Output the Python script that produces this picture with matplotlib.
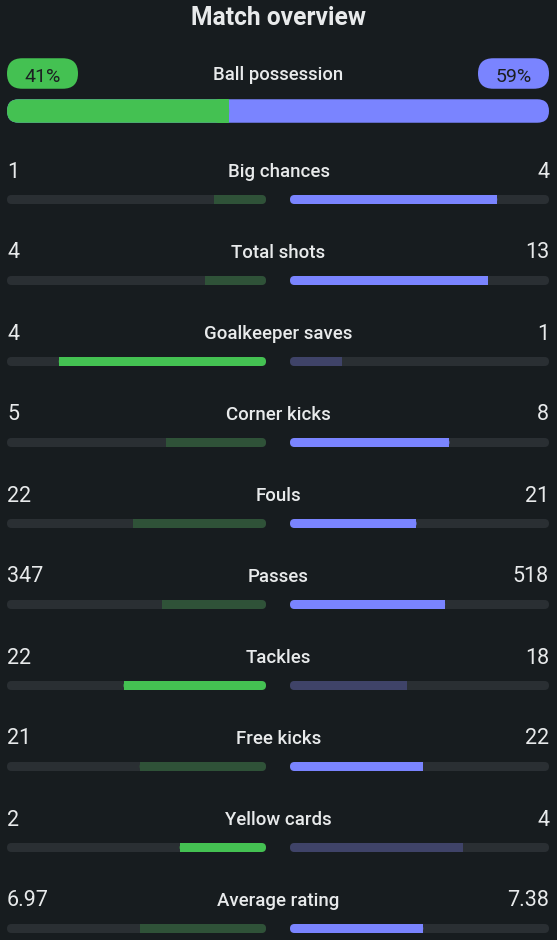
import matplotlib.pyplot as plt
from matplotlib.patches import FancyBboxPatch, Rectangle

plt.rcParams["font.family"] = ["Roboto", "DejaVu Sans"]

BG = "#171c1f"
TRACK = "#2a2f33"
TEXT = "#e8eaeb"
HOME_ON, HOME_OFF = "#44c152", "#2f5238"
AWAY_ON, AWAY_OFF = "#7a84ff", "#3f4368"

possession_home = 41
possession_away = 59

stats = ["Big chances", "Total shots", "Goalkeeper saves", "Corner kicks", "Fouls",
         "Passes", "Tackles", "Free kicks", "Yellow cards", "Average rating"]
home = [1, 4, 4, 5, 22, 347, 22, 21, 2, 6.97]
away = [4, 13, 1, 8, 21, 518, 18, 22, 4, 7.38]
lower_is_better = ["Fouls", "Yellow cards"]


def bar(ax, x0, x1, yc, h, color, square_left=False, square_right=False):
    r = h / 2
    ax.add_patch(FancyBboxPatch((x0, yc - r), x1 - x0, h, fc=color, ec="none",
                                boxstyle=f"round,pad=0,rounding_size={r}"))
    if square_left:
        ax.add_patch(Rectangle((x0, yc - r), r, h, fc=color, ec="none"))
    if square_right:
        ax.add_patch(Rectangle((x1 - r, yc - r), r, h, fc=color, ec="none"))


def main() -> None:
    fig = plt.figure(figsize=(5.57, 9.4), dpi=100, facecolor=BG)
    ax = fig.add_axes([0, 0, 1, 1])
    ax.set_facecolor(BG)
    ax.set_xlim(0, 557)
    ax.set_ylim(940, 0)
    ax.axis("off")

    ax.text(278.5, 25, "Match overview", color=TEXT, fontsize=17.7, fontweight="bold",
            ha="center", va="baseline")

    # possession
    bar(ax, 7, 78, 73.5, 30.5, HOME_ON)
    bar(ax, 478, 549, 73.5, 30.5, AWAY_ON)
    ax.text(42.5, 81.5, f"{possession_home}%", color="#1c1f22", fontsize=14,
            ha="center", va="baseline")
    ax.text(513.5, 81.5, f"{possession_away}%", color="#1c1f22", fontsize=14,
            ha="center", va="baseline")
    ax.text(278, 80, "Ball possession", color=TEXT, fontsize=13.3, fontweight="medium",
            ha="center", va="baseline")
    split = 7 + (549 - 7) * possession_home / (possession_home + possession_away)
    bar(ax, 7, 549, 111, 23.5, AWAY_ON)
    bar(ax, 7, split, 111, 23.5, HOME_ON, square_right=True)

    left0, left1 = 7, 266
    right0, right1 = 290, 549
    width = left1 - left0
    for i, (name, h, a) in enumerate(zip(stats, home, away)):
        yl = 177.5 + 81 * i
        yb = 199.5 + 81 * i
        ax.text(7, yl, f"{h:g}", color=TEXT, fontsize=15.5, ha="left", va="baseline")
        ax.text(549, yl, f"{a:g}", color=TEXT, fontsize=15.5, ha="right", va="baseline")
        ax.text(278.5, yl - 0.5, name, color=TEXT, fontsize=13.4, fontweight="medium",
                ha="center", va="baseline")

        home_best = h < a if name in lower_is_better else h > a
        bar(ax, left0, left1, yb, 9, TRACK)
        bar(ax, right0, right1, yb, 9, TRACK)
        hw = width * h / (h + a)
        aw = width * a / (h + a)
        bar(ax, left1 - hw, left1, yb, 9, HOME_ON if home_best else HOME_OFF,
            square_left=True)
        bar(ax, right0, right0 + aw, yb, 9, AWAY_OFF if home_best else AWAY_ON,
            square_right=True)

    fig.savefig("out.png", dpi=100, facecolor=BG)


main() if __name__ == "__main__" else None
